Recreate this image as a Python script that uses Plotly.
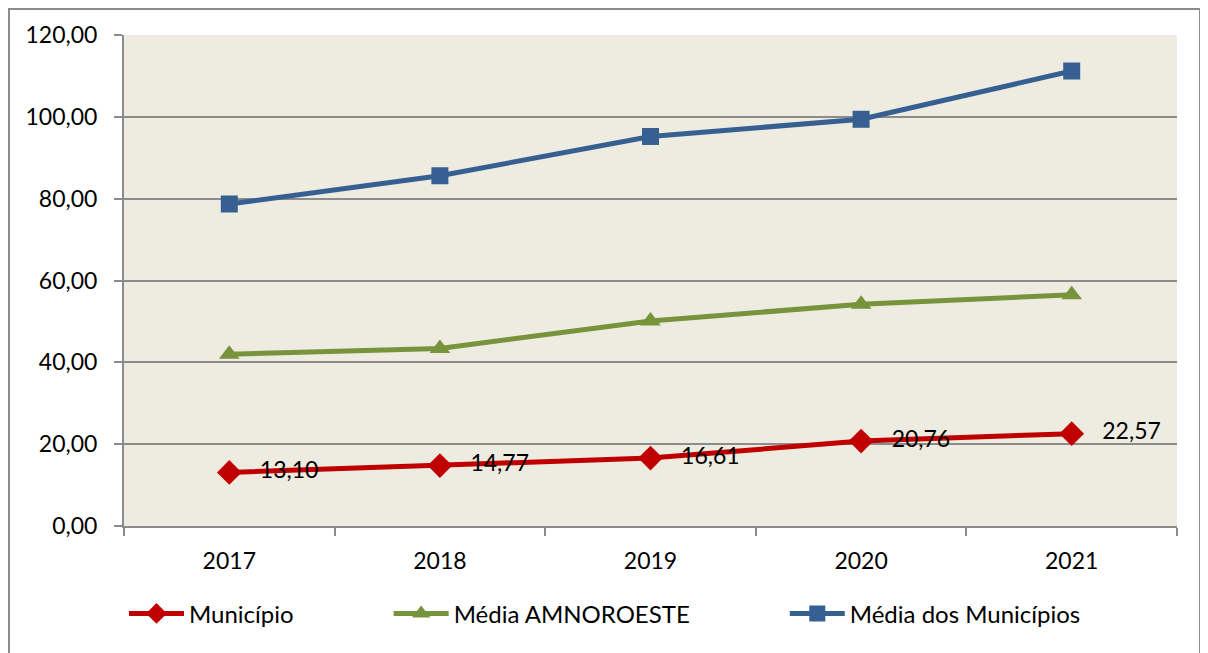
import plotly.graph_objects as go

anos = ["2017", "2018", "2019", "2020", "2021"]
municipio = [13.10, 14.77, 16.61, 20.76, 22.57]
media_amnoroeste = [42.0, 43.4, 50.1, 54.2, 56.5]
media_municipios = [78.7, 85.6, 95.2, 99.4, 111.2]
y_ticks = [0, 20, 40, 60, 80, 100, 120]

FONT = "Lato"
GRID = "#8c8c8c"
PAD = "\u2003" * 5  # spacing between legend entries

fig = go.Figure()

fig.add_trace(go.Scatter(
    x=anos, y=municipio, name="Município" + PAD, mode="lines+markers+text",
    line=dict(color="#C00000", width=5),
    marker=dict(symbol="diamond", size=19, color="#C00000"),
    texttemplate="   %{y:.2f}", textposition="middle right",
    textfont=dict(family=FONT, size=23, color="black"),
))
fig.add_trace(go.Scatter(
    x=anos, y=media_amnoroeste, name="Média AMNOROESTE" + PAD, mode="lines+markers",
    line=dict(color="#77933C", width=5),
    marker=dict(symbol="triangle-up", size=18, color="#77933C"),
))
fig.add_trace(go.Scatter(
    x=anos, y=media_municipios, name="Média dos Municípios", mode="lines+markers",
    line=dict(color="#376092", width=5),
    marker=dict(symbol="square", size=17, color="#376092"),
))

W, H = 1200, 645
L, R, T, B = 116, 31, 27, 127
pw, ph = W - L - R, H - T - B

# outer frame
fig.add_shape(type="rect", xref="paper", yref="paper",
              x0=(1 - L) / pw, x1=(1192 - L) / pw,
              y0=(H - B - 700) / ph, y1=(H - B - 1) / ph,
              line=dict(color="#8c8c8c", width=2), fillcolor="rgba(0,0,0,0)", layer="below")

fig.update_layout(
    width=W, height=H,
    margin=dict(l=L, r=R, t=T, b=B),
    paper_bgcolor="white", plot_bgcolor="#EEEBE0",
    separators=",.",
    font=dict(family=FONT, size=23, color="black"),
    showlegend=True,
    legend=dict(orientation="h", x=0.0, xanchor="left", y=-0.133, yanchor="top",
                font=dict(family=FONT, size=24, color="black"),
                itemwidth=55, bgcolor="rgba(0,0,0,0)"),
    xaxis=dict(type="category", range=[-0.5, 4.5], showgrid=False,
               showline=True, linecolor=GRID, linewidth=2,
               ticks="outside", tickson="boundaries", ticklen=8, tickcolor=GRID, tickwidth=2,
               tickfont=dict(family=FONT, size=23), ticklabelstandoff=13),
    yaxis=dict(range=[0, 120], tickvals=y_ticks, tickformat=".2f",
               showgrid=True, gridcolor=GRID, gridwidth=2, zeroline=False,
               showline=True, linecolor=GRID, linewidth=2,
               ticks="outside", ticklen=8, tickcolor=GRID, tickwidth=2,
               tickfont=dict(family=FONT, size=23), ticklabelstandoff=12),
)

fig.write_html("out.html")
